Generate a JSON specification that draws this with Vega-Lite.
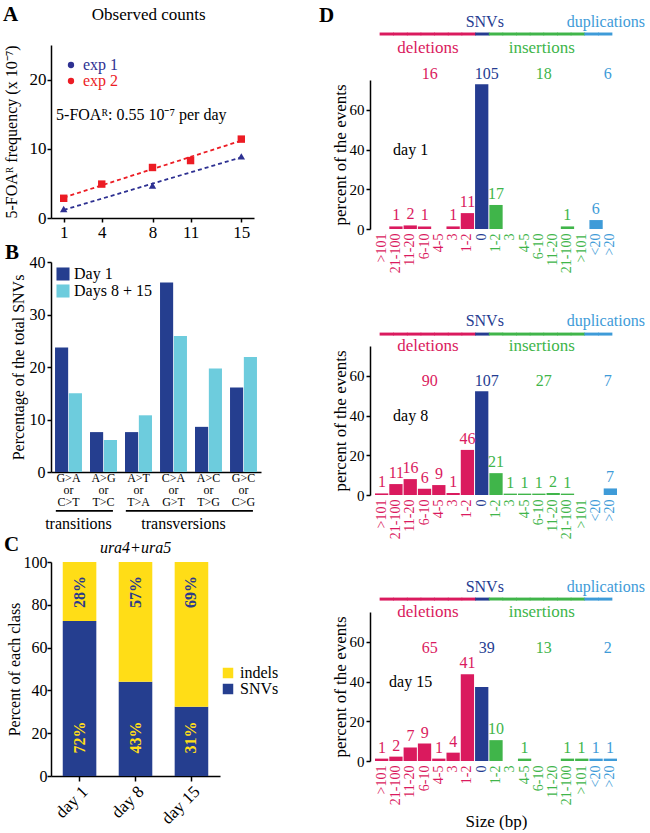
{
  "$schema": "https://vega.github.io/schema/vega-lite/v6.json",
  "background": "white",
  "padding": {"left": 3, "top": 4, "right": 0, "bottom": 0},
  "spacing": 40,
  "align": "none",
  "resolve": {"scale": {"color": "independent"}, "legend": {"color": "independent"}},
  "datasets": {
    "a": [
      {"exp": "exp 1", "day": 1, "freq": 1.3},
      {"exp": "exp 1", "day": 8, "freq": 4.7},
      {"exp": "exp 1", "day": 15, "freq": 8.9},
      {"exp": "exp 2", "day": 1, "freq": 2.85},
      {"exp": "exp 2", "day": 4, "freq": 4.9},
      {"exp": "exp 2", "day": 8, "freq": 7.3},
      {"exp": "exp 2", "day": 11, "freq": 8.3},
      {"exp": "exp 2", "day": 15, "freq": 11.4}
    ],
    "b": [
      {"type": "G>A|or|C>T", "grp": "Day 1", "pct": 23.7},
      {"type": "G>A|or|C>T", "grp": "Days 8 + 15", "pct": 15.0},
      {"type": "A>G|or|T>C", "grp": "Day 1", "pct": 7.6},
      {"type": "A>G|or|T>C", "grp": "Days 8 + 15", "pct": 6.1},
      {"type": "A>T|or|T>A", "grp": "Day 1", "pct": 7.6},
      {"type": "A>T|or|T>A", "grp": "Days 8 + 15", "pct": 10.8},
      {"type": "C>A|or|G>T", "grp": "Day 1", "pct": 36.1},
      {"type": "C>A|or|G>T", "grp": "Days 8 + 15", "pct": 25.9},
      {"type": "A>C|or|T>G", "grp": "Day 1", "pct": 8.6},
      {"type": "A>C|or|T>G", "grp": "Days 8 + 15", "pct": 19.7},
      {"type": "G>C|or|C>G", "grp": "Day 1", "pct": 16.1},
      {"type": "G>C|or|C>G", "grp": "Days 8 + 15", "pct": 21.9}
    ],
    "bspan": [
      {"name": "transitions", "from": "G>A|or|C>T", "to": "A>G|or|T>C", "mid": "G>A|or|C>T"},
      {"name": "transversions", "from": "A>T|or|T>A", "to": "G>C|or|C>G", "mid": "C>A|or|G>T"}
    ],
    "c": [
      {"day": "day 1", "class": "SNVs", "pct": 72.4, "label": "72%"},
      {"day": "day 1", "class": "indels", "pct": 27.6, "label": "28%"},
      {"day": "day 8", "class": "SNVs", "pct": 44.0, "label": "43%"},
      {"day": "day 8", "class": "indels", "pct": 56.0, "label": "57%"},
      {"day": "day 15", "class": "SNVs", "pct": 32.4, "label": "31%"},
      {"day": "day 15", "class": "indels", "pct": 67.6, "label": "69%"}
    ],
    "d1": [
      {"i": 0, "cat": ">101", "grp": "deletions", "n": 0, "pct": 0},
      {"i": 1, "cat": "21-100", "grp": "deletions", "n": 1, "pct": 1.3},
      {"i": 2, "cat": "11-20", "grp": "deletions", "n": 2, "pct": 1.8},
      {"i": 3, "cat": "6-10", "grp": "deletions", "n": 1, "pct": 1.3},
      {"i": 4, "cat": "4-5", "grp": "deletions", "n": 0, "pct": 0},
      {"i": 5, "cat": "3", "grp": "deletions", "n": 1, "pct": 1.3},
      {"i": 6, "cat": "1-2", "grp": "deletions", "n": 11, "pct": 8.0},
      {"i": 7, "cat": "0", "grp": "SNVs", "n": 105, "pct": 72.8},
      {"i": 8, "cat": "1-2", "grp": "insertions", "n": 17, "pct": 12.1},
      {"i": 9, "cat": "3", "grp": "insertions", "n": 0, "pct": 0},
      {"i": 10, "cat": "4-5", "grp": "insertions", "n": 0, "pct": 0},
      {"i": 11, "cat": "6-10", "grp": "insertions", "n": 0, "pct": 0},
      {"i": 12, "cat": "11-20", "grp": "insertions", "n": 0, "pct": 0},
      {"i": 13, "cat": "21-100", "grp": "insertions", "n": 1, "pct": 1.3},
      {"i": 14, "cat": ">101", "grp": "insertions", "n": 0, "pct": 0},
      {"i": 15, "cat": "<20", "grp": "duplications", "n": 6, "pct": 4.5},
      {"i": 16, "cat": ">20", "grp": "duplications", "n": 0, "pct": 0}
    ],
    "d8": [
      {"i": 0, "cat": ">101", "grp": "deletions", "n": 1, "pct": 0.8},
      {"i": 1, "cat": "21-100", "grp": "deletions", "n": 11, "pct": 5.5},
      {"i": 2, "cat": "11-20", "grp": "deletions", "n": 16, "pct": 8.0},
      {"i": 3, "cat": "6-10", "grp": "deletions", "n": 6, "pct": 3.2},
      {"i": 4, "cat": "4-5", "grp": "deletions", "n": 9, "pct": 5.0},
      {"i": 5, "cat": "3", "grp": "deletions", "n": 1, "pct": 1.0},
      {"i": 6, "cat": "1-2", "grp": "deletions", "n": 46, "pct": 22.7},
      {"i": 7, "cat": "0", "grp": "SNVs", "n": 107, "pct": 52.2},
      {"i": 8, "cat": "1-2", "grp": "insertions", "n": 21, "pct": 11.0},
      {"i": 9, "cat": "3", "grp": "insertions", "n": 1, "pct": 0.7},
      {"i": 10, "cat": "4-5", "grp": "insertions", "n": 1, "pct": 0.7},
      {"i": 11, "cat": "6-10", "grp": "insertions", "n": 1, "pct": 0.7},
      {"i": 12, "cat": "11-20", "grp": "insertions", "n": 2, "pct": 1.0},
      {"i": 13, "cat": "21-100", "grp": "insertions", "n": 1, "pct": 0.7},
      {"i": 14, "cat": ">101", "grp": "insertions", "n": 0, "pct": 0},
      {"i": 15, "cat": "<20", "grp": "duplications", "n": 0, "pct": 0},
      {"i": 16, "cat": ">20", "grp": "duplications", "n": 7, "pct": 3.3}
    ],
    "d15": [
      {"i": 0, "cat": ">101", "grp": "deletions", "n": 1, "pct": 1.2},
      {"i": 1, "cat": "21-100", "grp": "deletions", "n": 2, "pct": 2.2},
      {"i": 2, "cat": "11-20", "grp": "deletions", "n": 7, "pct": 6.8},
      {"i": 3, "cat": "6-10", "grp": "deletions", "n": 9, "pct": 8.8},
      {"i": 4, "cat": "4-5", "grp": "deletions", "n": 1, "pct": 1.2},
      {"i": 5, "cat": "3", "grp": "deletions", "n": 4, "pct": 4.2},
      {"i": 6, "cat": "1-2", "grp": "deletions", "n": 41, "pct": 43.7},
      {"i": 7, "cat": "0", "grp": "SNVs", "n": 39, "pct": 37.3},
      {"i": 8, "cat": "1-2", "grp": "insertions", "n": 10, "pct": 10.5},
      {"i": 9, "cat": "3", "grp": "insertions", "n": 0, "pct": 0},
      {"i": 10, "cat": "4-5", "grp": "insertions", "n": 1, "pct": 1.2},
      {"i": 11, "cat": "6-10", "grp": "insertions", "n": 0, "pct": 0},
      {"i": 12, "cat": "11-20", "grp": "insertions", "n": 0, "pct": 0},
      {"i": 13, "cat": "21-100", "grp": "insertions", "n": 1, "pct": 1.2},
      {"i": 14, "cat": ">101", "grp": "insertions", "n": 1, "pct": 1.2},
      {"i": 15, "cat": "<20", "grp": "duplications", "n": 1, "pct": 1.2},
      {"i": 16, "cat": ">20", "grp": "duplications", "n": 1, "pct": 1.2}
    ]
  },
  "hconcat": [
    {
      "spacing": 2,
      "resolve": {"scale": {"color": "independent"}, "legend": {"color": "independent"}},
      "vconcat": [
        {
          "title": {"text": "A", "dx": 0, "offset": -19},
          "width": 203,
          "height": 173,
          "layer": [
            {
              "data": {"name": "a"},
              "transform": [{"regression": "freq", "on": "day", "groupby": ["exp"], "extent": [1, 15]}],
              "mark": {"type": "line", "strokeDash": [4, 3], "strokeWidth": 1.8},
              "encoding": {
                "x": {"field": "day", "type": "quantitative", "scale": {"domain": [0, 16], "nice": false}, "axis": {"values": [1, 4, 8, 11, 15], "title": null, "labelFontSize": 17, "tickSize": 4}},
                "y": {"field": "freq", "type": "quantitative", "scale": {"domain": [0, 25], "nice": false}, "axis": {"values": [0, 5, 10, 15, 20, 25], "title": "5-FOAᴿ frequency (x 10⁻⁷)", "labelFontSize": 17, "titleFontSize": 16, "titlePadding": 10, "tickSize": 4, "labelPadding": 1}},
                "stroke": {"field": "exp", "type": "nominal", "scale": {"domain": ["exp 1", "exp 2"], "range": ["#2E3192", "#EC1C24"]}, "legend": null}
              }
            },
            {
              "data": {"name": "a"},
              "mark": {"type": "point", "filled": true, "opacity": 1, "size": 55},
              "encoding": {
                "x": {"field": "day", "type": "quantitative"},
                "y": {"field": "freq", "type": "quantitative"},
                "color": {"field": "exp", "type": "nominal", "scale": {"domain": ["exp 1", "exp 2"], "range": ["#2E3192", "#EC1C24"]}, "legend": {"orient": "top-left", "title": null, "offset": 12, "padding": 0, "labelFontSize": 16, "symbolSize": 40, "rowPadding": 0, "labelOffset": 4, "labelColor": {"expr": "datum.value === 'exp 1' ? '#2E3192' : '#EC1C24'"}}},
                "shape": {"field": "exp", "type": "nominal", "scale": {"domain": ["exp 1", "exp 2"], "range": ["triangle-up", "square"]}}
              }
            },
            {
              "data": {"values": [{"t": "5-FOAᴿ: 0.55 10⁻⁷ per day"}]},
              "mark": {"type": "text", "align": "left", "fontSize": 16},
              "encoding": {"x": {"datum": 0.4}, "y": {"datum": 14.9}, "text": {"field": "t"}}
            },
            {
              "data": {"values": [{"t": "Observed counts"}]},
              "mark": {"type": "text", "fontSize": 17},
              "encoding": {"x": {"datum": 7.7}, "y": {"datum": 29.3}, "text": {"field": "t"}}
            }
          ]
        },
        {
          "title": {"text": "B", "dx": -5, "offset": -9},
          "width": 210,
          "height": 210,
          "layer": [
            {
              "data": {"name": "b"},
              "mark": {"type": "bar"},
              "encoding": {
                "x": {"field": "type", "type": "nominal", "scale": {"domain": ["G>A|or|C>T", "A>G|or|T>C", "A>T|or|T>A", "C>A|or|G>T", "A>C|or|T>G", "G>C|or|C>G"], "paddingInner": 0.23, "paddingOuter": 0.115}, "axis": {"title": null, "labelAngle": 0, "ticks": false, "labelExpr": "split(datum.label, '|')", "labelFontSize": 12, "labelLineHeight": 12, "labelPadding": 0}},
                "xOffset": {"field": "grp", "type": "nominal", "scale": {"domain": ["Day 1", "Days 8 + 15"], "paddingInner": 0.05}},
                "y": {"field": "pct", "type": "quantitative", "scale": {"domain": [0, 40], "nice": false}, "axis": {"title": "Percentage of the total SNVs", "values": [0, 5, 10, 15, 20, 25, 30, 35, 40], "labelExpr": "datum.value % 10 === 0 ? datum.label : ''", "labelFontSize": 16, "titlePadding": 3, "tickSize": 4}},
                "color": {"field": "grp", "type": "nominal", "scale": {"domain": ["Day 1", "Days 8 + 15"], "range": ["#253E8F", "#6DCCDD"]}, "legend": {"orient": "top-left", "title": null, "offset": 4, "padding": 0, "symbolType": "square", "symbolSize": 170, "symbolStrokeWidth": 0, "labelFontSize": 16, "rowPadding": 1, "labelOffset": 3}}
              }
            },
            {
              "data": {"name": "bspan"},
              "mark": {"type": "rule", "strokeWidth": 1.6, "color": "#000"},
              "encoding": {"x": {"field": "from", "type": "nominal", "bandPosition": 0.03}, "x2": {"field": "to", "bandPosition": 0.85}, "y": {"datum": -7.4}}
            },
            {
              "data": {"name": "bspan"},
              "mark": {"type": "text", "fontSize": 16, "baseline": "middle"},
              "encoding": {"x": {"field": "mid", "type": "nominal", "bandPosition": 0.87}, "y": {"datum": -9.9}, "text": {"field": "name"}}
            }
          ]
        },
        {
          "title": {"text": "C", "dx": -2, "offset": -15},
          "width": 169,
          "height": 214,
          "layer": [
            {
              "data": {"name": "c"},
              "mark": {"type": "bar"},
              "encoding": {
                "x": {"field": "day", "type": "nominal", "scale": {"domain": ["day 1", "day 8", "day 15"], "paddingInner": 0.4, "paddingOuter": 0.21}, "axis": {"title": null, "labelAngle": -45, "labelFontSize": 17, "tickSize": 5}},
                "y": {"field": "pct", "type": "quantitative", "stack": "zero", "scale": {"domain": [0, 100], "nice": false}, "axis": {"values": [0, 20, 40, 60, 80, 100], "title": "Percent of each class", "labelFontSize": 16, "titleFontSize": 16, "titlePadding": 1, "labelPadding": 0, "tickSize": 4}},
                "color": {"field": "class", "type": "nominal", "scale": {"domain": ["indels", "SNVs"], "range": ["#FFDD17", "#253E8F"]}, "legend": {"orient": "none", "legendX": 169, "legendY": 103, "title": null, "symbolType": "square", "symbolSize": 110, "symbolStrokeWidth": 0, "labelFontSize": 16, "rowPadding": 0, "padding": 0}},
                "order": {"field": "class", "sort": "ascending"}
              }
            },
            {
              "data": {"name": "c"},
              "transform": [{"filter": "datum['class'] === 'indels'"}],
              "mark": {"type": "text", "angle": 270, "fontWeight": "bold", "fontSize": 16, "color": "#2B3A8C", "baseline": "middle"},
              "encoding": {"x": {"field": "day", "type": "nominal"}, "y": {"datum": 86}, "text": {"field": "label"}}
            },
            {
              "data": {"name": "c"},
              "transform": [{"filter": "datum['class'] === 'SNVs'"}],
              "mark": {"type": "text", "angle": 270, "fontWeight": "bold", "fontSize": 16, "color": "#FFDD17", "baseline": "middle"},
              "encoding": {"x": {"field": "day", "type": "nominal"}, "y": {"datum": 18}, "text": {"field": "label"}}
            },
            {
              "data": {"values": [{"t": "ura4+ura5"}]},
              "mark": {"type": "text", "fontStyle": "italic", "fontSize": 16},
              "encoding": {"x": {"datum": "day 8"}, "y": {"datum": 106.5}, "text": {"field": "t"}}
            }
          ]
        }
      ]
    },
    {
      "spacing": 40,
      "resolve": {"scale": {"color": "independent"}, "legend": {"color": "independent"}},
      "vconcat": [
        {
          "title": {"text": "D", "dx": -12, "offset": -12},
          "width": 242,
          "height": 184,
          "data": {"name": "d1"},
          "resolve": {"scale": {"x": "independent"}, "axis": {"x": "independent"}},
          "layer": [
            {
              "transform": [{"filter": "datum.n > 0"}],
              "mark": {"type": "bar"},
              "encoding": {
                "x": {"field": "i", "type": "ordinal", "scale": {"domain": [0, 1, 2, 3, 4, 5, 6, 7, 8, 9, 10, 11, 12, 13, 14, 15, 16], "paddingInner": 0.07, "paddingOuter": 0}, "axis": {"labelExpr": "['>101','21-100','11-20','6-10','4-5','3','1-2','0','1-2','3','4-5','6-10','11-20','21-100','>101','<20','>20'][datum.value]", "labelAngle": -90, "domain": false, "ticks": false, "labelFontSize": 14, "labelPadding": 4, "labelOverlap": false, "title": null, "labelColor": {"condition": [{"test": "datum.value < 7", "value": "#DA1A5E"}, {"test": "datum.value == 7", "value": "#253C91"}, {"test": "datum.value < 15", "value": "#40B54A"}], "value": "#3E9BD8"}}},
                "y": {"field": "pct", "type": "quantitative", "scale": {"domain": [0, 75], "nice": false, "range": [184, 35]}, "axis": {"values": [0, 10, 20, 30, 40, 50, 60, 70], "title": "percent of the events", "offset": 5, "labelFontSize": 15, "titleFontSize": 17, "tickSize": 4, "titlePadding": 0}},
                "color": {"field": "grp", "type": "nominal", "scale": {"domain": ["deletions", "SNVs", "insertions", "duplications"], "range": ["#DA1A5E", "#253C91", "#40B54A", "#3E9BD8"]}, "legend": null}
              }
            },
            {
              "transform": [{"filter": "datum.n > 0 && datum.grp !== 'SNVs'"}],
              "mark": {"type": "text", "baseline": "bottom", "dy": -3, "fontSize": 16},
              "encoding": {"x": {"field": "i", "type": "quantitative", "scale": {"domain": [-0.5, 16.5], "nice": false, "zero": false}, "axis": null}, "y": {"field": "pct", "type": "quantitative"}, "text": {"field": "n"}, "color": {"field": "grp", "type": "nominal"}}
            },
            {
              "mark": {"type": "bar", "size": 14.4, "orient": "vertical"},
              "encoding": {"x": {"field": "i", "type": "quantitative", "scale": {"domain": [-0.5, 16.5], "nice": false, "zero": false}, "axis": null}, "y": {"datum": 97.4}, "y2": {"datum": 98.9}, "color": {"field": "grp", "type": "nominal"}}
            },
            {
              "transform": [{"aggregate": [{"op": "sum", "field": "n", "as": "total"}, {"op": "mean", "field": "i", "as": "mid"}], "groupby": ["grp"]}],
              "mark": {"type": "text", "fontSize": 16, "dx": 5},
              "encoding": {"x": {"field": "mid", "type": "quantitative", "scale": {"domain": [-0.5, 16.5], "nice": false, "zero": false}, "axis": null}, "y": {"datum": 78}, "text": {"field": "total"}, "color": {"field": "grp", "type": "nominal"}}
            },
            {
              "transform": [{"aggregate": [{"op": "mean", "field": "i", "as": "mid"}], "groupby": ["grp"]}, {"filter": "datum.grp === 'SNVs' || datum.grp === 'duplications'"}],
              "mark": {"type": "text", "fontSize": 16, "dx": 3},
              "encoding": {"x": {"field": "mid", "type": "quantitative", "scale": {"domain": [-0.5, 16.5], "nice": false, "zero": false}, "axis": null}, "y": {"datum": 104.2}, "text": {"field": "grp"}, "color": {"field": "grp", "type": "nominal"}}
            },
            {
              "transform": [{"aggregate": [{"op": "mean", "field": "i", "as": "mid"}], "groupby": ["grp"]}, {"filter": "datum.grp === 'deletions' || datum.grp === 'insertions'"}],
              "mark": {"type": "text", "fontSize": 17, "dx": 3},
              "encoding": {"x": {"field": "mid", "type": "quantitative", "scale": {"domain": [-0.5, 16.5], "nice": false, "zero": false}, "axis": null}, "y": {"datum": 91.1}, "text": {"field": "grp"}, "color": {"field": "grp", "type": "nominal"}}
            },
            {
              "data": {"values": [{"t": "day 1"}]},
              "mark": {"type": "text", "fontSize": 16, "color": "#000"},
              "encoding": {"x": {"datum": 2, "type": "quantitative", "scale": {"domain": [-0.5, 16.5], "nice": false, "zero": false}, "axis": null}, "y": {"datum": 40}, "text": {"field": "t"}}
            }
          ]
        },
        {
          "width": 242,
          "height": 149,
          "data": {"name": "d8"},
          "resolve": {"scale": {"x": "independent"}, "axis": {"x": "independent"}},
          "layer": [
            {
              "transform": [{"filter": "datum.n > 0"}],
              "mark": {"type": "bar"},
              "encoding": {
                "x": {"field": "i", "type": "ordinal", "scale": {"domain": [0, 1, 2, 3, 4, 5, 6, 7, 8, 9, 10, 11, 12, 13, 14, 15, 16], "paddingInner": 0.07, "paddingOuter": 0}, "axis": {"labelExpr": "['>101','21-100','11-20','6-10','4-5','3','1-2','0','1-2','3','4-5','6-10','11-20','21-100','>101','<20','>20'][datum.value]", "labelAngle": -90, "domain": false, "ticks": false, "labelFontSize": 14, "labelPadding": 4, "labelOverlap": false, "title": null, "labelColor": {"condition": [{"test": "datum.value < 7", "value": "#DA1A5E"}, {"test": "datum.value == 7", "value": "#253C91"}, {"test": "datum.value < 15", "value": "#40B54A"}], "value": "#3E9BD8"}}},
                "y": {"field": "pct", "type": "quantitative", "scale": {"domain": [0, 75], "nice": false}, "axis": {"values": [0, 10, 20, 30, 40, 50, 60, 70], "title": "percent of the events", "offset": 5, "labelFontSize": 15, "titleFontSize": 17, "tickSize": 4, "titlePadding": 0}},
                "color": {"field": "grp", "type": "nominal", "scale": {"domain": ["deletions", "SNVs", "insertions", "duplications"], "range": ["#DA1A5E", "#253C91", "#40B54A", "#3E9BD8"]}, "legend": null}
              }
            },
            {
              "transform": [{"filter": "datum.n > 0 && datum.grp !== 'SNVs'"}],
              "mark": {"type": "text", "baseline": "bottom", "dy": -3, "fontSize": 16},
              "encoding": {"x": {"field": "i", "type": "quantitative", "scale": {"domain": [-0.5, 16.5], "nice": false, "zero": false}, "axis": null}, "y": {"field": "pct", "type": "quantitative"}, "text": {"field": "n"}, "color": {"field": "grp", "type": "nominal"}}
            },
            {
              "mark": {"type": "bar", "size": 14.4, "orient": "vertical"},
              "encoding": {"x": {"field": "i", "type": "quantitative", "scale": {"domain": [-0.5, 16.5], "nice": false, "zero": false}, "axis": null}, "y": {"datum": 80.25}, "y2": {"datum": 81.75}, "color": {"field": "grp", "type": "nominal"}}
            },
            {
              "transform": [{"aggregate": [{"op": "sum", "field": "n", "as": "total"}, {"op": "mean", "field": "i", "as": "mid"}], "groupby": ["grp"]}],
              "mark": {"type": "text", "fontSize": 16, "dx": 5},
              "encoding": {"x": {"field": "mid", "type": "quantitative", "scale": {"domain": [-0.5, 16.5], "nice": false, "zero": false}, "axis": null}, "y": {"datum": 57.5}, "text": {"field": "total"}, "color": {"field": "grp", "type": "nominal"}}
            },
            {
              "transform": [{"aggregate": [{"op": "mean", "field": "i", "as": "mid"}], "groupby": ["grp"]}, {"filter": "datum.grp === 'SNVs' || datum.grp === 'duplications'"}],
              "mark": {"type": "text", "fontSize": 16, "dx": 3},
              "encoding": {"x": {"field": "mid", "type": "quantitative", "scale": {"domain": [-0.5, 16.5], "nice": false, "zero": false}, "axis": null}, "y": {"datum": 87.5}, "text": {"field": "grp"}, "color": {"field": "grp", "type": "nominal"}}
            },
            {
              "transform": [{"aggregate": [{"op": "mean", "field": "i", "as": "mid"}], "groupby": ["grp"]}, {"filter": "datum.grp === 'deletions' || datum.grp === 'insertions'"}],
              "mark": {"type": "text", "fontSize": 17, "dx": 3},
              "encoding": {"x": {"field": "mid", "type": "quantitative", "scale": {"domain": [-0.5, 16.5], "nice": false, "zero": false}, "axis": null}, "y": {"datum": 75}, "text": {"field": "grp"}, "color": {"field": "grp", "type": "nominal"}}
            },
            {
              "data": {"values": [{"t": "day 8"}]},
              "mark": {"type": "text", "fontSize": 16, "color": "#000"},
              "encoding": {"x": {"datum": 2, "type": "quantitative", "scale": {"domain": [-0.5, 16.5], "nice": false, "zero": false}, "axis": null}, "y": {"datum": 40}, "text": {"field": "t"}}
            }
          ]
        },
        {
          "width": 242,
          "height": 149,
          "data": {"name": "d15"},
          "resolve": {"scale": {"x": "independent"}, "axis": {"x": "independent"}},
          "layer": [
            {
              "transform": [{"filter": "datum.n > 0"}],
              "mark": {"type": "bar"},
              "encoding": {
                "x": {"field": "i", "type": "ordinal", "scale": {"domain": [0, 1, 2, 3, 4, 5, 6, 7, 8, 9, 10, 11, 12, 13, 14, 15, 16], "paddingInner": 0.07, "paddingOuter": 0}, "axis": {"labelExpr": "['>101','21-100','11-20','6-10','4-5','3','1-2','0','1-2','3','4-5','6-10','11-20','21-100','>101','<20','>20'][datum.value]", "labelAngle": -90, "domain": false, "ticks": false, "labelFontSize": 14, "labelPadding": 4, "labelOverlap": false, "title": "Size (bp)", "titleFontSize": 17, "titlePadding": 9, "labelColor": {"condition": [{"test": "datum.value < 7", "value": "#DA1A5E"}, {"test": "datum.value == 7", "value": "#253C91"}, {"test": "datum.value < 15", "value": "#40B54A"}], "value": "#3E9BD8"}}},
                "y": {"field": "pct", "type": "quantitative", "scale": {"domain": [0, 75], "nice": false}, "axis": {"values": [0, 10, 20, 30, 40, 50, 60, 70], "title": "percent of the events", "offset": 5, "labelFontSize": 15, "titleFontSize": 17, "tickSize": 4, "titlePadding": 0}},
                "color": {"field": "grp", "type": "nominal", "scale": {"domain": ["deletions", "SNVs", "insertions", "duplications"], "range": ["#DA1A5E", "#253C91", "#40B54A", "#3E9BD8"]}, "legend": null}
              }
            },
            {
              "transform": [{"filter": "datum.n > 0 && datum.grp !== 'SNVs'"}],
              "mark": {"type": "text", "baseline": "bottom", "dy": -3, "fontSize": 16},
              "encoding": {"x": {"field": "i", "type": "quantitative", "scale": {"domain": [-0.5, 16.5], "nice": false, "zero": false}, "axis": null}, "y": {"field": "pct", "type": "quantitative"}, "text": {"field": "n"}, "color": {"field": "grp", "type": "nominal"}}
            },
            {
              "mark": {"type": "bar", "size": 14.4, "orient": "vertical"},
              "encoding": {"x": {"field": "i", "type": "quantitative", "scale": {"domain": [-0.5, 16.5], "nice": false, "zero": false}, "axis": null}, "y": {"datum": 80.75}, "y2": {"datum": 82.25}, "color": {"field": "grp", "type": "nominal"}}
            },
            {
              "transform": [{"aggregate": [{"op": "sum", "field": "n", "as": "total"}, {"op": "mean", "field": "i", "as": "mid"}], "groupby": ["grp"]}],
              "mark": {"type": "text", "fontSize": 16, "dx": 5},
              "encoding": {"x": {"field": "mid", "type": "quantitative", "scale": {"domain": [-0.5, 16.5], "nice": false, "zero": false}, "axis": null}, "y": {"datum": 57}, "text": {"field": "total"}, "color": {"field": "grp", "type": "nominal"}}
            },
            {
              "transform": [{"aggregate": [{"op": "mean", "field": "i", "as": "mid"}], "groupby": ["grp"]}, {"filter": "datum.grp === 'SNVs' || datum.grp === 'duplications'"}],
              "mark": {"type": "text", "fontSize": 16, "dx": 3},
              "encoding": {"x": {"field": "mid", "type": "quantitative", "scale": {"domain": [-0.5, 16.5], "nice": false, "zero": false}, "axis": null}, "y": {"datum": 87.5}, "text": {"field": "grp"}, "color": {"field": "grp", "type": "nominal"}}
            },
            {
              "transform": [{"aggregate": [{"op": "mean", "field": "i", "as": "mid"}], "groupby": ["grp"]}, {"filter": "datum.grp === 'deletions' || datum.grp === 'insertions'"}],
              "mark": {"type": "text", "fontSize": 17, "dx": 3},
              "encoding": {"x": {"field": "mid", "type": "quantitative", "scale": {"domain": [-0.5, 16.5], "nice": false, "zero": false}, "axis": null}, "y": {"datum": 75}, "text": {"field": "grp"}, "color": {"field": "grp", "type": "nominal"}}
            },
            {
              "data": {"values": [{"t": "day 15"}]},
              "mark": {"type": "text", "fontSize": 16, "color": "#000"},
              "encoding": {"x": {"datum": 2, "type": "quantitative", "scale": {"domain": [-0.5, 16.5], "nice": false, "zero": false}, "axis": null}, "y": {"datum": 40}, "text": {"field": "t"}}
            }
          ]
        }
      ]
    }
  ],
  "config": {
    "font": "Liberation Serif",
    "view": {"stroke": null},
    "axis": {"grid": false, "domainColor": "#000", "tickColor": "#000", "labelColor": "#000", "titleColor": "#000", "titleFontWeight": "normal", "domainWidth": 1.5, "tickWidth": 1.5, "tickSize": 5, "labelFontSize": 16, "titleFontSize": 16, "labelPadding": 2, "labelFont": "Liberation Serif", "titleFont": "Liberation Serif"},
    "title": {"fontSize": 21, "fontWeight": "bold", "anchor": "start", "color": "#000", "font": "Liberation Serif"},
    "legend": {"labelFontSize": 16, "labelColor": "#000", "labelFont": "Liberation Serif"},
    "text": {"font": "Liberation Serif"}
  }
}
